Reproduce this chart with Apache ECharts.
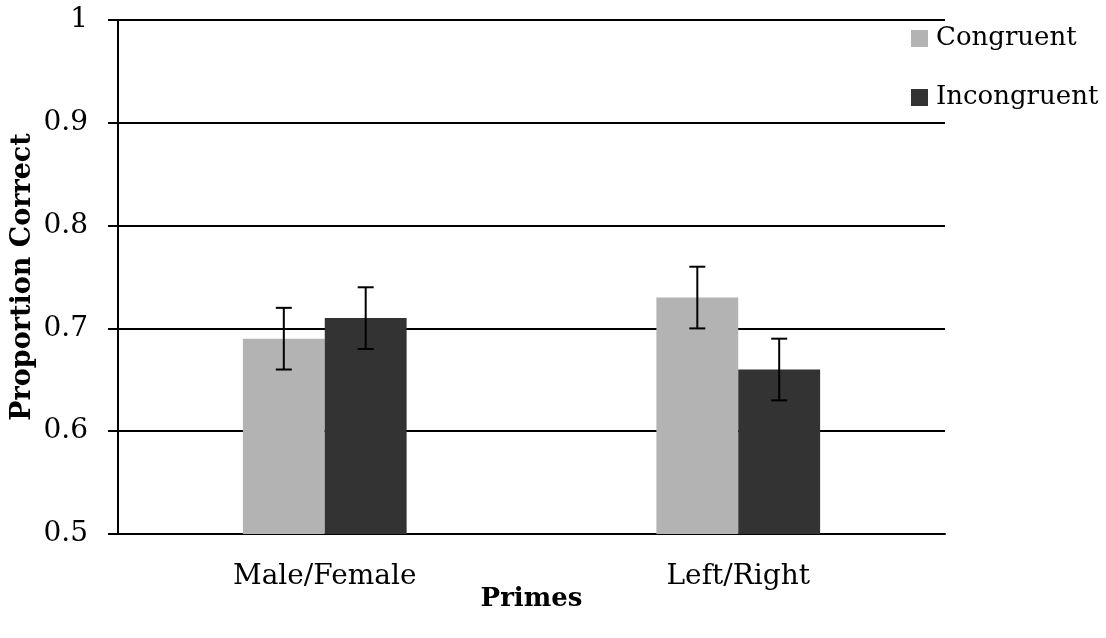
<!DOCTYPE html>
<html>
<head>
<meta charset="utf-8">
<script src="https://cdn.jsdelivr.net/npm/echarts@6/dist/echarts.min.js"></script>
<style>html,body{margin:0;padding:0;background:#fff}#c{width:1106px;height:638px}</style>
</head>
<body>
<div id="c"></div>
<script>
const categories = ['Male/Female', 'Left/Right'];
const seriesNames = ['Congruent', 'Incongruent'];
const congruent = [0.69, 0.73];
const incongruent = [0.71, 0.66];
const congruentErr = [0.03, 0.03];
const incongruentErr = [0.03, 0.03];
const yTicks = [0.5, 0.6, 0.7, 0.8, 0.9, 1];

const FONT = '"DejaVu Serif", serif';
const BAR_FRAC = 0.198;
const colors = ['#b3b3b3', '#333333'];

function errData(vals, errs) {
  return vals.map((v, i) => [i, v - errs[i], v + errs[i]]);
}
function errSeries(name, vals, errs, sign) {
  return {
    type: 'custom',
    name: name + ' err',
    z: 10,
    silent: true,
    data: errData(vals, errs),
    encode: { x: 0, y: [1, 2] },
    renderItem: function (params, api) {
      const i = api.value(0);
      const lo = api.coord([i, api.value(1)]);
      const hi = api.coord([i, api.value(2)]);
      const band = api.size([1, 0])[0];
      const x = lo[0] + sign * band * BAR_FRAC / 2;
      const cap = 8;
      const st = { stroke: '#000', lineWidth: 2 };
      return {
        type: 'group',
        children: [
          { type: 'line', shape: { x1: x, y1: lo[1], x2: x, y2: hi[1] }, style: st },
          { type: 'line', shape: { x1: x - cap, y1: lo[1], x2: x + cap, y2: lo[1] }, style: st },
          { type: 'line', shape: { x1: x - cap, y1: hi[1], x2: x + cap, y2: hi[1] }, style: st }
        ]
      };
    }
  };
}

const chart = echarts.init(document.getElementById('c'));
chart.setOption({
  animation: false,
  backgroundColor: '#fff',
  grid: { left: 118, right: 161, top: 20, bottom: 104, containLabel: false, outerBoundsMode: 'none' },
  legend: {
    orient: 'vertical',
    left: 906,
    top: 15,
    icon: 'rect',
    itemWidth: 17,
    itemHeight: 17,
    itemGap: 22,
    data: seriesNames,
    textStyle: { fontFamily: FONT, fontSize: 26, color: '#000', lineHeight: 28, padding: [9, 0, 0, 3] }
  },
  xAxis: {
    type: 'category',
    data: categories,
    name: 'Primes',
    nameLocation: 'middle',
    nameGap: 52,
    nameMoveOverlap: false,
    nameTextStyle: { fontFamily: FONT, fontSize: 26, fontWeight: 'bold', color: '#000' },
    axisLine: { lineStyle: { color: '#000', width: 2 } },
    axisTick: { show: false },
    axisLabel: { fontFamily: FONT, fontSize: 28, color: '#000', margin: 29 }
  },
  yAxis: {
    type: 'value',
    min: 0.5,
    max: 1,
    interval: 0.1,
    name: 'Proportion Correct',
    nameLocation: 'middle',
    nameGap: 82,
    nameMoveOverlap: false,
    nameTextStyle: { fontFamily: FONT, fontSize: 27, fontWeight: 'bold', color: '#000' },
    axisLine: { show: true, lineStyle: { color: '#000', width: 2 } },
    axisTick: { show: true, length: 10, lineStyle: { color: '#000', width: 2 } },
    splitLine: { lineStyle: { color: '#000', width: 2 } },
    axisLabel: {
      fontFamily: FONT, fontSize: 28, color: '#000', margin: 30,
      formatter: function (v) {
        const r = Math.round(v * 10) / 10;
        return yTicks.indexOf(r) >= 0 ? String(r) : '';
      }
    }
  },
  series: [
    { type: 'bar', name: seriesNames[0], data: congruent, barWidth: (BAR_FRAC * 100) + '%', barGap: '0%', itemStyle: { color: colors[0] } },
    { type: 'bar', name: seriesNames[1], data: incongruent, barWidth: (BAR_FRAC * 100) + '%', barGap: '0%', itemStyle: { color: colors[1] } },
    errSeries(seriesNames[0], congruent, congruentErr, -1),
    errSeries(seriesNames[1], incongruent, incongruentErr, 1)
  ]
});
</script>
</body>
</html>
